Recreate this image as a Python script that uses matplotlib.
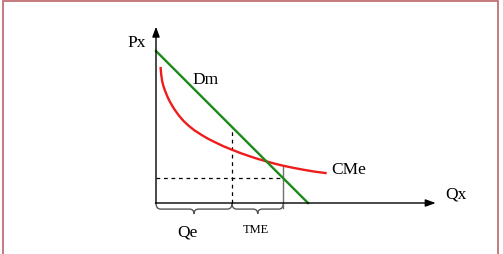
import matplotlib
matplotlib.use("Agg")
import matplotlib.pyplot as plt
from matplotlib.patches import Rectangle, PathPatch
from matplotlib.path import Path

plt.rcParams['font.family'] = ['Liberation Serif', 'DejaVu Serif']

# demand line Dm (Q, P)
demand_q = [0, 10]
demand_p = [10, 0]

# average cost curve CMe
cme_q = [0.30, 0.32, 0.35, 0.40, 0.48, 0.59, 0.75, 0.92, 1.20, 1.47, 1.80,
         2.13, 2.50, 3.01, 3.40, 3.84, 4.40, 4.98, 5.60, 6.18, 6.70, 7.30,
         7.80, 8.38, 9.00, 9.69, 10.40, 11.23]
cme_p = [8.95, 8.70, 8.40, 8.05, 7.72, 7.40, 7.00, 6.65, 6.18, 5.80, 5.41,
         5.10, 4.80, 4.47, 4.24, 4.02, 3.75, 3.51, 3.27, 3.07, 2.90, 2.73,
         2.59, 2.45, 2.32, 2.19, 2.07, 1.96]

q_e = 5.0        # Qe
q_t = 8.38       # end of TME
p_dash = 1.62    # horizontal dashed level
p_cme_t = 2.45   # CMe at q_t

fig = plt.figure(figsize=(5.03, 2.55), dpi=100)
ax = fig.add_axes([0, 0, 1, 1])
ax.set_xlim(-10.263, 22.829)
ax.set_ylim(-3.355, 13.421)
ax.axis('off')

# frame around the picture
fig.patches.append(Rectangle((3 / 503, -0.05), 495 / 503, 1.05 - 1.5 / 255,
                             transform=fig.transFigure, fill=False,
                             edgecolor='#c07072', linewidth=1.3))

# axes with arrows
ax.annotate('', xy=(0, 11.6), xytext=(0, -0.02),
            arrowprops=dict(arrowstyle='-|>,head_length=0.6,head_width=0.22',
                            color='black', lw=1.0, shrinkA=0, shrinkB=0))
ax.annotate('', xy=(18.4, 0), xytext=(-0.03, 0),
            arrowprops=dict(arrowstyle='-|>,head_length=0.6,head_width=0.22',
                            color='black', lw=1.0, shrinkA=0, shrinkB=0))

# dashed guides
ax.plot([q_e, q_e], [0, 10 - q_e], color='black', ls=(0, (3, 3)), lw=0.9)
ax.plot([0, q_t], [p_dash, p_dash], color='black', ls=(0, (3, 3)), lw=0.9)
ax.plot([q_t, q_t], [-0.3, p_cme_t], color='#707070', lw=1.0)

# curves
ax.plot(cme_q, cme_p, color='#ee1c1c', lw=1.7, solid_capstyle='butt',
        solid_joinstyle='round')
ax.plot(demand_q, demand_p, color='#1b8a1b', lw=1.7)


def brace(x0, x1, h1=0.4, tip=0.72, r=0.3):
    xm = (x0 + x1) / 2
    verts = [(x0, 0), (x0, -h1), (x0 + r, -h1),
             (xm - r, -h1), (xm, -h1), (xm, -tip),
             (xm, -h1), (xm + r, -h1),
             (x1 - r, -h1), (x1, -h1), (x1, 0)]
    codes = [Path.MOVETO, Path.CURVE3, Path.CURVE3,
             Path.LINETO, Path.CURVE3, Path.CURVE3,
             Path.CURVE3, Path.CURVE3,
             Path.LINETO, Path.CURVE3, Path.CURVE3]
    ax.add_patch(PathPatch(Path(verts, codes), fill=False,
                           edgecolor='#555555', lw=1.0))


brace(0, q_e)
brace(q_e, q_t)

# labels
ax.text(-1.25, 10.6, 'Px', fontsize=12.5, ha='center', va='center')
ax.text(19.7, 0.6, 'Qx', fontsize=12.5, ha='center', va='center')
ax.text(3.25, 8.15, 'Dm', fontsize=12.5, ha='center', va='center')
ax.text(12.7, 2.25, 'CMe', fontsize=12.5, ha='center', va='center')
ax.text(2.1, -1.9, 'Qe', fontsize=12.5, ha='center', va='center')
ax.text(6.6, -1.7, 'TME', fontsize=9, ha='center', va='center')

fig.savefig('out.png', dpi=100)
